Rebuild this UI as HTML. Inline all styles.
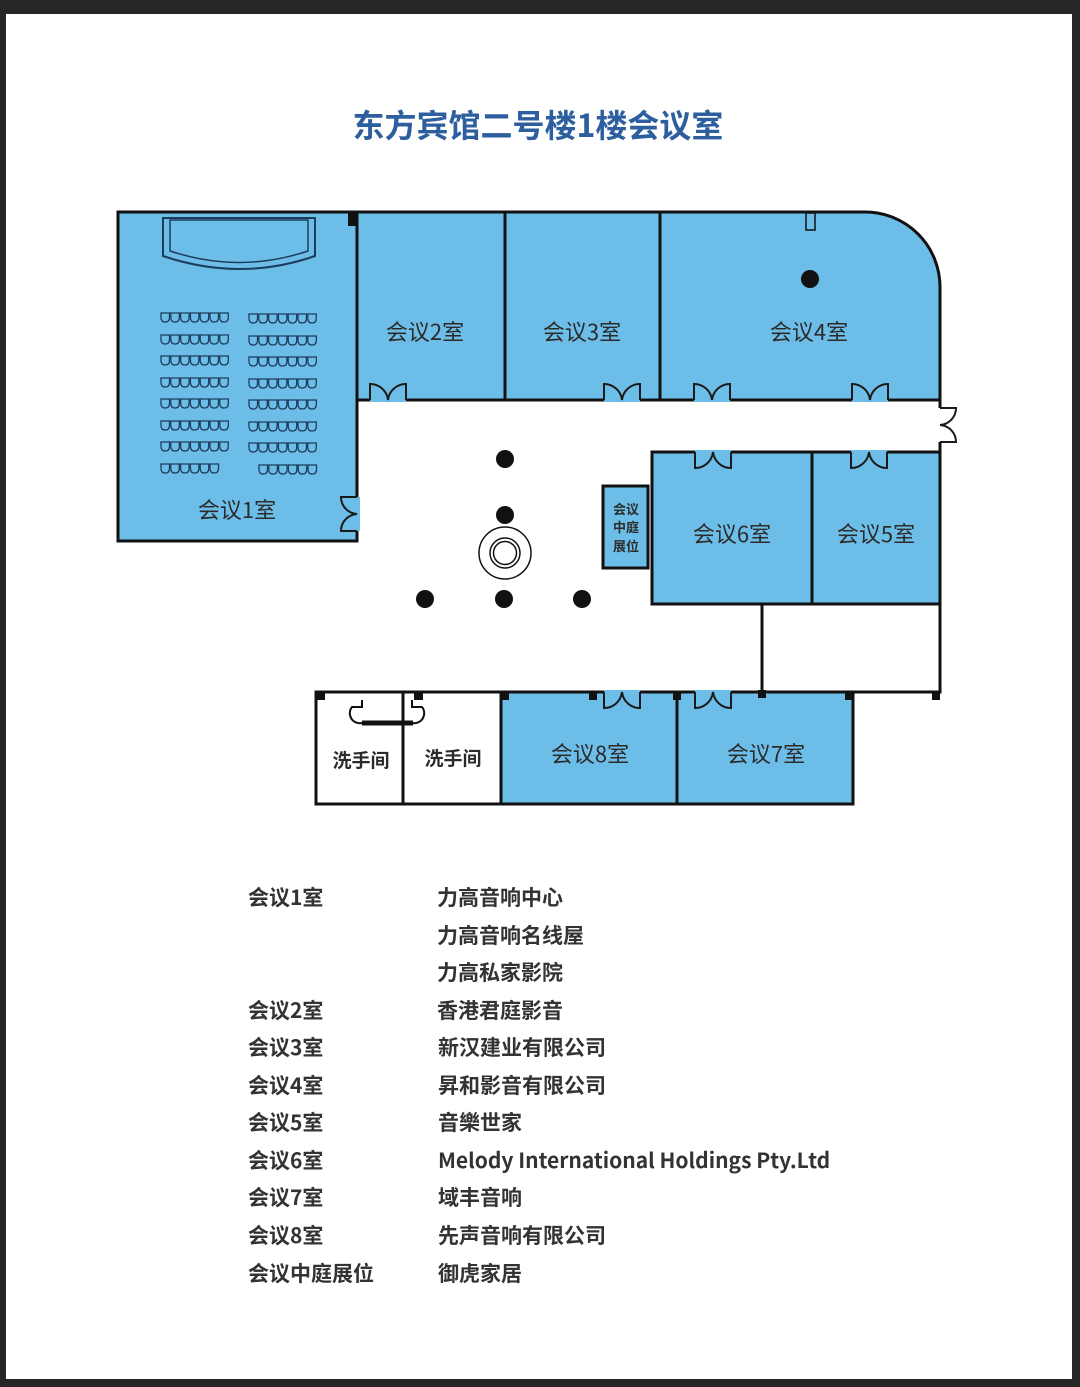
<!DOCTYPE html>
<html><head><meta charset="utf-8"><style>
html,body{margin:0;padding:0;background:#262626;}
body{width:1080px;height:1387px;position:relative;overflow:hidden;}
#pg{position:absolute;left:6px;top:14px;width:1066px;height:1365px;background:#fff;}
svg{position:absolute;left:0;top:0;}
.t{font-family:"Noto Sans CJK SC","Liberation Sans",sans-serif;}
</style></head><body>
<div id="pg"></div>
<svg width="1080" height="1387" viewBox="0 0 1080 1387" xmlns="http://www.w3.org/2000/svg">
<defs>
<path id="seat" d="M0,0 h8.5 v4.5 q0,4.5 -4.25,4.5 q-4.25,0 -4.25,-4.5 z" fill="none" stroke="#1d3d5c" stroke-width="1.3"/>
<g id="row7"><use href="#seat" x="0"/><use href="#seat" x="9.8"/><use href="#seat" x="19.6"/><use href="#seat" x="29.4"/><use href="#seat" x="39.2"/><use href="#seat" x="49"/><use href="#seat" x="58.8"/></g>
<g id="row5"><use href="#seat" x="0"/><use href="#seat" x="9.8"/><use href="#seat" x="19.6"/><use href="#seat" x="29.4"/><use href="#seat" x="39.2"/><use href="#seat" x="49"/></g>
<path id="dUp" d="M0,0 v-16 A18,18 0 0 1 18,0 A18,18 0 0 1 36,-16 v16" fill="none" stroke="#1a1a1a" stroke-width="2"/>
<path id="dDn" d="M0,0 v16 A18,18 0 0 0 18,0 A18,18 0 0 0 36,16 v-16" fill="none" stroke="#1a1a1a" stroke-width="2"/>
</defs>

<text class="t" x="538" y="137" text-anchor="middle" font-size="32" font-weight="700" fill="#2d5f9e">东方宾馆二号楼1楼会议室</text>

<g fill="#6dbde9" stroke="#111" stroke-width="3">
<rect x="118" y="212" width="239" height="329"/>
<rect x="357" y="212" width="148" height="188"/>
<rect x="505" y="212" width="155" height="188"/>
<path d="M660,212 H865 A75,75 0 0 1 940,287 V400 H660 Z"/>
<rect x="652" y="452" width="160" height="152"/>
<rect x="812" y="452" width="128" height="152"/>
<rect x="603" y="486" width="45" height="82"/>
<rect x="501" y="692" width="176" height="112"/>
<rect x="677" y="692" width="176" height="112"/>
</g>
<g fill="#fff" stroke="#111" stroke-width="3">
<rect x="316" y="692" width="87" height="112"/>
<rect x="403" y="692" width="98" height="112"/>
</g>
<g stroke="#111" stroke-width="3" fill="none">
<path d="M853,692 H940 V604"/>
<path d="M762,604 V692"/>
<path d="M940,400 V408 M940,442 V452"/>
<path d="M357,212 V400"/>
</g>
<g fill="#111">
<rect x="348" y="212" width="9" height="14"/>
<rect x="316" y="692" width="9" height="8"/>
<rect x="414" y="692" width="9" height="8"/>
<rect x="501" y="692" width="8" height="8"/>
<rect x="589" y="692" width="8" height="8"/>
<rect x="673" y="692" width="8" height="8"/>
<rect x="758" y="690" width="8" height="8"/>
<rect x="845" y="692" width="8" height="8"/>
<rect x="932" y="692" width="8" height="8"/>
</g>
<rect x="806" y="213" width="9" height="17" fill="#6dbde9" stroke="#111" stroke-width="1.5"/>

<path d="M163,218 H315 V256 Q240,282 163,256 Z" fill="none" stroke="#1d3d5c" stroke-width="2"/>
<path d="M170,220 H308 V251 Q240,274 170,251 Z" fill="none" stroke="#1d3d5c" stroke-width="1.5"/>
<g>
<use href="#row7" x="161" y="313"/><use href="#row7" x="249" y="314"/>
<use href="#row7" x="161" y="335"/><use href="#row7" x="249" y="336"/>
<use href="#row7" x="161" y="356"/><use href="#row7" x="249" y="357"/>
<use href="#row7" x="161" y="378"/><use href="#row7" x="249" y="379"/>
<use href="#row7" x="161" y="399"/><use href="#row7" x="249" y="400"/>
<use href="#row7" x="161" y="421"/><use href="#row7" x="249" y="422"/>
<use href="#row7" x="161" y="442"/><use href="#row7" x="249" y="443"/>
<use href="#row5" x="161" y="464"/><use href="#row5" x="259" y="465"/>
</g>

<g>
<rect x="370" y="380" width="36" height="22" fill="#6dbde9"/><use href="#dUp" x="370" y="400"/>
<rect x="604" y="380" width="36" height="22" fill="#6dbde9"/><use href="#dUp" x="604" y="400"/>
<rect x="694" y="380" width="36" height="22" fill="#6dbde9"/><use href="#dUp" x="694" y="400"/>
<rect x="852" y="380" width="36" height="22" fill="#6dbde9"/><use href="#dUp" x="852" y="400"/>
<rect x="695" y="450" width="36" height="5" fill="#6dbde9"/><use href="#dDn" x="695" y="452"/>
<rect x="851" y="450" width="36" height="5" fill="#6dbde9"/><use href="#dDn" x="851" y="452"/>
<rect x="604" y="690" width="36" height="5" fill="#6dbde9"/><use href="#dDn" x="604" y="692"/>
<rect x="695" y="690" width="36" height="5" fill="#6dbde9"/><use href="#dDn" x="695" y="692"/>
<rect x="354" y="497" width="6" height="34" fill="#6dbde9"/>
<path d="M357,497 h-16 A17,17 0 0 0 357,514 A17,17 0 0 0 341,531 h16" fill="none" stroke="#1a1a1a" stroke-width="2"/>
<rect x="937" y="408" width="6" height="34" fill="#fff"/>
<path d="M940,408 h16 A17,17 0 0 1 940,425 A17,17 0 0 1 956,442 h-16" fill="none" stroke="#1a1a1a" stroke-width="2"/>
<path d="M362,700 v7 h-10 a10,10 0 0 0 10,16 H412 a10,10 0 0 0 10,-16 h-10 v-7" fill="none" stroke="#111" stroke-width="2"/>
<path d="M362,723 H413" stroke="#111" stroke-width="5"/>
<path d="M403,723 V804" stroke="#111" stroke-width="3"/>
</g>

<g fill="#111">
<circle cx="505" cy="459" r="9"/><circle cx="505" cy="515" r="9"/>
<circle cx="425" cy="599" r="9"/><circle cx="504" cy="599" r="9"/><circle cx="582" cy="599" r="9"/>
<circle cx="810" cy="279" r="9"/>
</g>
<g fill="none" stroke="#111">
<circle cx="505" cy="553" r="26" stroke-width="1.5"/>
<circle cx="505" cy="553" r="15" stroke-width="1.5"/>
<circle cx="505" cy="553" r="11.5" stroke-width="1.5"/>
</g>

<g class="t" font-size="22" fill="#2b2b2b" text-anchor="middle">
<text x="237" y="518">会议1室</text>
<text x="425" y="340">会议2室</text>
<text x="582" y="340">会议3室</text>
<text x="809" y="340">会议4室</text>
<text x="732" y="542">会议6室</text>
<text x="876" y="542">会议5室</text>
<text x="590" y="762">会议8室</text>
<text x="766" y="762">会议7室</text>
<text x="361" y="767" font-size="19" font-weight="700">洗手间</text>
<text x="453" y="765" font-size="19" font-weight="700">洗手间</text>
<g font-size="13" font-weight="700"><text x="626" y="514">会议</text><text x="626" y="532">中庭</text><text x="626" y="551">展位</text></g>
</g>

<g class="t" font-size="21" font-weight="700" fill="#333">
<text x="248" y="905">会议1室</text><text x="437" y="905">力高音响中心</text>
<text x="437" y="943">力高音响名线屋</text>
<text x="437" y="980">力高私家影院</text>
<text x="248" y="1018">会议2室</text><text x="437" y="1018">香港君庭影音</text>
<text x="248" y="1055">会议3室</text><text x="438" y="1055">新汉建业有限公司</text>
<text x="248" y="1093">会议4室</text><text x="438" y="1093">昇和影音有限公司</text>
<text x="248" y="1130">会议5室</text><text x="438" y="1130">音樂世家</text>
<text x="248" y="1168">会议6室</text><text x="438" y="1168">Melody International Holdings Pty.Ltd</text>
<text x="248" y="1205">会议7室</text><text x="438" y="1205">域丰音响</text>
<text x="248" y="1243">会议8室</text><text x="438" y="1243">先声音响有限公司</text>
<text x="248" y="1281">会议中庭展位</text><text x="438" y="1281">御虎家居</text>
</g>
</svg>
</body></html>
